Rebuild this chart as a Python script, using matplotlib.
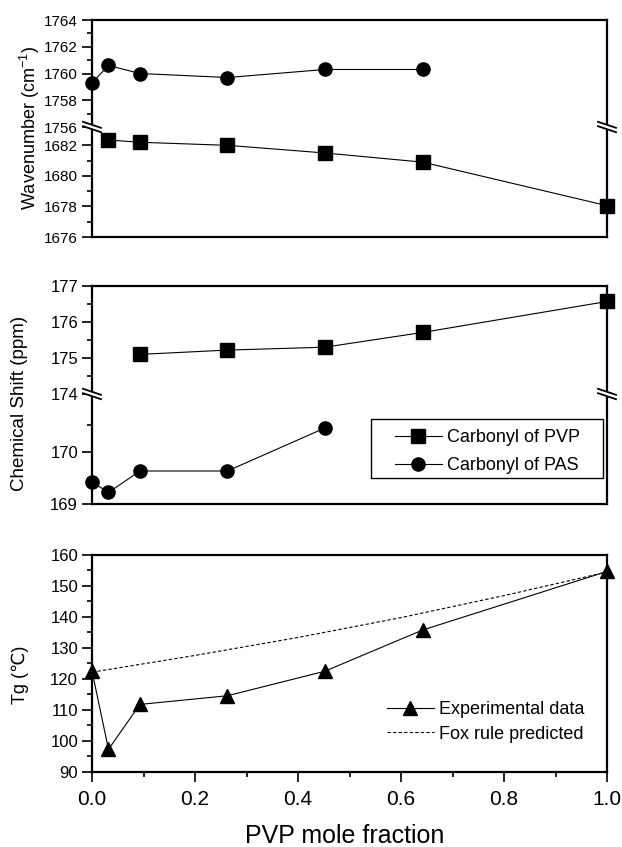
import matplotlib
matplotlib.use('Agg')
import matplotlib.pyplot as plt
from matplotlib.lines import Line2D
from matplotlib.patches import Polygon, Rectangle
from matplotlib.ticker import MultipleLocator, FixedLocator

plt.rcParams['font.family'] = ['Liberation Sans', 'DejaVu Sans']
plt.rcParams['mathtext.fontset'] = 'custom'
plt.rcParams['mathtext.rm'] = 'Liberation Sans'
plt.rcParams['mathtext.it'] = 'Liberation Sans:italic'

# ---------------- data ----------------
x_ir_pas = [0.0, 0.032, 0.093, 0.263, 0.452, 0.642]
ir_pas = [1759.3, 1760.6, 1760.0, 1759.7, 1760.3, 1760.3]
x_ir_pvp = [0.032, 0.093, 0.263, 0.452, 0.642, 1.0]
ir_pvp = [1682.35, 1682.2, 1682.0, 1681.5, 1680.9, 1678.05]

x_nmr_pvp = [0.093, 0.263, 0.452, 0.642, 1.0]
nmr_pvp = [175.1, 175.22, 175.3, 175.71, 176.57]
x_nmr_pas = [0.0, 0.032, 0.093, 0.263, 0.452]
nmr_pas = [169.42, 169.22, 169.63, 169.63, 170.45]

x_tg = [0.0, 0.032, 0.093, 0.263, 0.452, 0.642, 1.0]
tg_exp = [122.6, 97.3, 111.8, 114.6, 122.5, 135.8, 154.7]
x_fox = [0.0, 0.2, 0.4, 0.6, 0.8, 1.0]
tg_fox = [122.2, 127.6, 133.4, 139.8, 146.9, 154.5]

legend_nmr = ['Carbonyl of PVP', 'Carbonyl of PAS']
legend_tg = ['Experimental data', 'Fox rule predicted']
x_ticks = [0.0, 0.2, 0.4, 0.6, 0.8, 1.0]
x_ticklabels = ['0.0', '0.2', '0.4', '0.6', '0.8', '1.0']

# ---------------- figure ----------------
W, H = 622, 847
fig = plt.figure(figsize=(W / 100, H / 100), dpi=100)


def fx(px):
    return px / W


def fy(py):
    return 1 - py / H


L, R = 92, 607
left = fx(L)
width = fx(R) - fx(L)


def make_ax(top_px, bot_px):
    return fig.add_axes([left, fy(bot_px), width, fy(top_px) - fy(bot_px)])


ax_ir_hi = make_ax(20, 127)
ax_ir_lo = make_ax(127, 237)
ax_nmr_hi = make_ax(286, 394)
ax_nmr_lo = make_ax(394, 504)
ax_tg = make_ax(555, 772)

SPW = 1.6
LW = 0.8
MS = 9.5


def style(ax, ysize, show_x=False, hide_top=False, hide_bottom=False):
    for s in ax.spines.values():
        s.set_linewidth(SPW)
    if hide_top:
        ax.spines['top'].set_visible(False)
    if hide_bottom:
        ax.spines['bottom'].set_visible(False)
    ax.set_xlim(0, 1)
    ax.tick_params(axis='y', which='major', direction='out', length=7, width=1.2,
                   labelsize=ysize, pad=3)
    ax.tick_params(axis='y', which='minor', direction='out', length=3.5, width=1.2)
    if show_x:
        ax.tick_params(axis='x', which='major', direction='out', length=7, width=1.2,
                       labelsize=15, pad=6)
        ax.tick_params(axis='x', which='minor', direction='out', length=3.5, width=1.2)
    else:
        ax.tick_params(axis='x', which='both', bottom=False, top=False,
                       labelbottom=False)


# ---- IR panel ----
ax_ir_hi.plot(x_ir_pas, ir_pas, '-', color='black', lw=LW, marker='o', ms=MS,
              clip_on=False, zorder=5)
ax_ir_hi.set_ylim(1756, 1764)
ax_ir_hi.yaxis.set_major_locator(MultipleLocator(2))
ax_ir_hi.yaxis.set_minor_locator(MultipleLocator(1))
style(ax_ir_hi, 11, hide_bottom=True)

ax_ir_lo.plot(x_ir_pvp, ir_pvp, '-', color='black', lw=LW, marker='s', ms=MS,
              clip_on=False, zorder=5)
ax_ir_lo.set_ylim(1676, 1683.2)
ax_ir_lo.yaxis.set_major_locator(FixedLocator([1676, 1678, 1680, 1682]))
ax_ir_lo.yaxis.set_minor_locator(FixedLocator([1677, 1679, 1681]))
style(ax_ir_lo, 11, hide_top=True)

# ---- NMR panel ----
l_pvp, = ax_nmr_hi.plot(x_nmr_pvp, nmr_pvp, '-', color='black', lw=LW, marker='s',
                        ms=MS, clip_on=False, zorder=5)
ax_nmr_hi.set_ylim(174, 177)
ax_nmr_hi.yaxis.set_major_locator(MultipleLocator(1))
ax_nmr_hi.yaxis.set_minor_locator(MultipleLocator(0.5))
style(ax_nmr_hi, 12, hide_bottom=True)

l_pas, = ax_nmr_lo.plot(x_nmr_pas, nmr_pas, '-', color='black', lw=LW, marker='o',
                        ms=MS, clip_on=False, zorder=5)
ax_nmr_lo.set_ylim(169, 171.1)
ax_nmr_lo.yaxis.set_major_locator(FixedLocator([169, 170]))
ax_nmr_lo.yaxis.set_minor_locator(FixedLocator([169.5, 170.5]))
style(ax_nmr_lo, 12, hide_top=True)

# legend frame drawn separately (wide horizontal padding as in the original)
frame = Rectangle((fx(371), fy(478)), fx(603) - fx(371), fy(419) - fy(478),
                  transform=fig.transFigure, facecolor='none',
                  edgecolor='black', lw=1.0, zorder=3, clip_on=False)
ax_nmr_lo.add_artist(frame)
leg1 = ax_nmr_lo.legend([l_pvp, l_pas], legend_nmr, loc='upper left',
                        bbox_to_anchor=(fx(395), fy(429)),
                        bbox_transform=fig.transFigure, borderaxespad=0,
                        borderpad=0, fontsize=13, frameon=False, handlelength=2.6,
                        handletextpad=0.3, labelspacing=0.6)
leg1.set_zorder(6)

# ---- Tg panel ----
l_exp, = ax_tg.plot(x_tg, tg_exp, '-', color='black', lw=LW, marker='^', ms=MS,
                    clip_on=False, zorder=5)
l_fox, = ax_tg.plot(x_fox, tg_fox, '--', color='black', lw=LW, dashes=(3, 2))
ax_tg.set_ylim(90, 160)
ax_tg.yaxis.set_major_locator(MultipleLocator(10))
ax_tg.yaxis.set_minor_locator(MultipleLocator(5))
ax_tg.set_xticks(x_ticks)
ax_tg.set_xticklabels(x_ticklabels)
ax_tg.xaxis.set_minor_locator(MultipleLocator(0.1))
style(ax_tg, 12, show_x=True)

leg2 = ax_tg.legend([l_exp, l_fox], legend_tg, loc='upper left',
                    bbox_to_anchor=(fx(387), fy(701)), bbox_transform=fig.transFigure,
                    borderaxespad=0, borderpad=0, fontsize=13, frameon=False,
                    handlelength=2.6, handletextpad=0.3, labelspacing=0.42)

# ---- labels ----
fig.text(fx(30), fy(128), 'Wavenumber (cm$^{-1}$)', rotation=90, ha='center',
         va='center', fontsize=13)
fig.text(fx(20), fy(403), 'Chemical Shift (ppm)', rotation=90, ha='center',
         va='center', fontsize=13.5)
fig.text(fx(20), fy(675), 'Tg (℃)', rotation=90, ha='center', va='center',
         fontsize=13, family=['Liberation Sans', 'DejaVu Sans'])
fig.text(fx(345), fy(836), 'PVP mole fraction', ha='center', va='center',
         fontsize=18)


# ---- break marks ----
def draw_break(xp, yp):
    dx, slope, sep = 9, 3.0, 2.2
    top = [(xp - dx, yp + sep - slope), (xp + dx, yp + sep + slope)]
    bot = [(xp - dx, yp - sep - slope), (xp + dx, yp - sep + slope)]
    poly = Polygon([(fx(a), fy(b)) for a, b in top + bot[::-1]], closed=True,
                   transform=fig.transFigure, facecolor='white', edgecolor='none',
                   zorder=10)
    fig.add_artist(poly)
    for seg in (top, bot):
        fig.add_artist(Line2D([fx(seg[0][0]), fx(seg[1][0])],
                              [fy(seg[0][1]), fy(seg[1][1])],
                              transform=fig.transFigure, color='black', lw=1.3,
                              zorder=11))


for yb in (127, 394):
    draw_break(L, yb)
    draw_break(R, yb)

fig.savefig('out.png', dpi=100)
